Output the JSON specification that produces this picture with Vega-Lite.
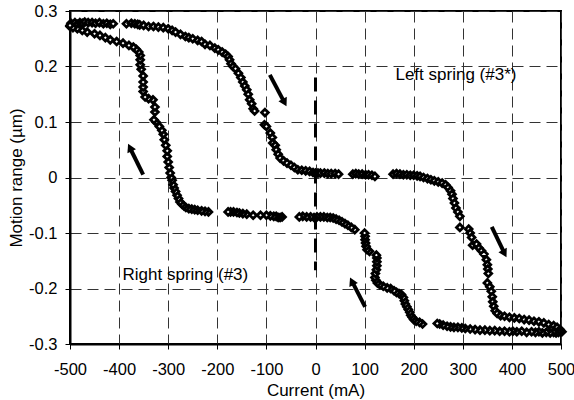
{
  "$schema": "https://vega.github.io/schema/vega-lite/v6.json",
  "width": 491,
  "height": 333,
  "autosize": "none",
  "padding": {"left": 70, "top": 11, "right": 13, "bottom": 56},
  "background": "white",
  "config": {
    "font": "Liberation Sans",
    "view": {"stroke": "#000", "strokeWidth": 2},
    "axis": {
      "labelFont": "Liberation Sans", "titleFont": "Liberation Sans",
      "labelFontSize": 16.5, "titleFontSize": 17, "labelColor": "#000", "titleColor": "#000",
      "titleFontWeight": "normal", "domainColor": "#000", "domainWidth": 2,
      "tickColor": "#000", "tickSize": 5, "tickWidth": 1,
      "labelFlush": false, "labelOverlap": false, "labelBound": false,
      "grid": true, "gridColor": "#333", "gridDash": [11, 6], "gridWidth": 1
    }
  },
  "datasets": {
    "pts": [
      {"x":-500,"y":0.272},{"x":-498,"y":0.278},{"x":-495,"y":0.275},{"x":-490,"y":0.279},{"x":-485,"y":0.276},{"x":-480,"y":0.279},{"x":-475,"y":0.278},{"x":-470,"y":0.28},{"x":-463,"y":0.279},{"x":-455,"y":0.279},{"x":-448,"y":0.278},{"x":-440,"y":0.279},{"x":-432,"y":0.277},{"x":-425,"y":0.278},{"x":-418,"y":0.276},{"x":-412,"y":0.277},
      {"x":-385,"y":0.277},{"x":-375,"y":0.278},{"x":-368,"y":0.277},{"x":-362,"y":0.276},{"x":-358,"y":0.275},{"x":-350,"y":0.274},{"x":-340,"y":0.272},{"x":-330,"y":0.272},{"x":-320,"y":0.271},{"x":-310,"y":0.27},{"x":-300,"y":0.268},{"x":-292,"y":0.265},{"x":-285,"y":0.262},{"x":-275,"y":0.258},{"x":-265,"y":0.254},{"x":-258,"y":0.252},{"x":-250,"y":0.25},{"x":-240,"y":0.247},{"x":-232,"y":0.245},{"x":-225,"y":0.24},{"x":-215,"y":0.238},{"x":-205,"y":0.233},{"x":-198,"y":0.23},{"x":-190,"y":0.226},{"x":-183,"y":0.222},{"x":-178,"y":0.218},{"x":-175,"y":0.212},{"x":-172,"y":0.205},{"x":-168,"y":0.2},{"x":-163,"y":0.196},{"x":-157,"y":0.188},{"x":-152,"y":0.18},{"x":-148,"y":0.172},{"x":-144,"y":0.165},{"x":-140,"y":0.158},{"x":-137,"y":0.15},{"x":-134,"y":0.14},{"x":-130,"y":0.133},{"x":-127,"y":0.124},{"x":-124,"y":0.12},{"x":-103,"y":0.117},{"x":-104,"y":0.095},{"x":-100,"y":0.092},{"x":-92,"y":0.08},{"x":-88,"y":0.072},{"x":-87,"y":0.062},{"x":-82,"y":0.058},{"x":-80,"y":0.05},{"x":-76,"y":0.042},{"x":-72,"y":0.035},{"x":-65,"y":0.03},{"x":-58,"y":0.026},{"x":-50,"y":0.022},{"x":-43,"y":0.018},{"x":-36,"y":0.014},{"x":-28,"y":0.013},{"x":-20,"y":0.012},{"x":-12,"y":0.011},{"x":-5,"y":0.009},{"x":0,"y":0.008},{"x":5,"y":0.008},{"x":10,"y":0.008},{"x":18,"y":0.008},{"x":25,"y":0.007},{"x":32,"y":0.007},{"x":40,"y":0.007},{"x":47,"y":0.006},
      {"x":76,"y":0.006},{"x":82,"y":0.007},{"x":88,"y":0.006},{"x":95,"y":0.006},{"x":102,"y":0.005},{"x":108,"y":0.005},{"x":115,"y":0.004},{"x":121,"y":0.002},
      {"x":158,"y":0.006},{"x":165,"y":0.007},{"x":172,"y":0.006},{"x":179,"y":0.005},{"x":186,"y":0.005},{"x":193,"y":0.004},{"x":200,"y":0.004},{"x":207,"y":0.003},{"x":213,"y":0.002},{"x":220,"y":0.0},{"x":228,"y":-0.002},{"x":235,"y":-0.004},{"x":242,"y":-0.006},{"x":250,"y":-0.008},{"x":258,"y":-0.01},{"x":265,"y":-0.013},{"x":270,"y":-0.018},{"x":275,"y":-0.024},{"x":278,"y":-0.03},{"x":280,"y":-0.038},{"x":283,"y":-0.046},{"x":286,"y":-0.055},{"x":290,"y":-0.062},{"x":294,"y":-0.07},{"x":294,"y":-0.09},{"x":312,"y":-0.093},{"x":315,"y":-0.1},{"x":318,"y":-0.108},{"x":320,"y":-0.122},{"x":328,"y":-0.12},{"x":333,"y":-0.127},{"x":338,"y":-0.132},{"x":343,"y":-0.138},{"x":348,"y":-0.148},{"x":350,"y":-0.157},{"x":351,"y":-0.165},{"x":352,"y":-0.173},{"x":350,"y":-0.19},{"x":355,"y":-0.197},{"x":358,"y":-0.205},{"x":360,"y":-0.215},{"x":361,"y":-0.224},{"x":363,"y":-0.232},{"x":366,"y":-0.24},{"x":370,"y":-0.245},{"x":377,"y":-0.249},{"x":385,"y":-0.25},{"x":395,"y":-0.252},{"x":405,"y":-0.253},{"x":415,"y":-0.254},{"x":425,"y":-0.256},{"x":435,"y":-0.257},{"x":445,"y":-0.259},{"x":455,"y":-0.26},{"x":465,"y":-0.262},{"x":475,"y":-0.265},{"x":485,"y":-0.267},{"x":492,"y":-0.27},{"x":498,"y":-0.274},{"x":502,"y":-0.278},
      {"x":500,"y":-0.278},{"x":495,"y":-0.279},{"x":490,"y":-0.28},{"x":485,"y":-0.279},{"x":478,"y":-0.28},{"x":470,"y":-0.279},{"x":462,"y":-0.28},{"x":455,"y":-0.278},{"x":448,"y":-0.279},{"x":440,"y":-0.278},{"x":430,"y":-0.279},{"x":420,"y":-0.277},{"x":410,"y":-0.278},{"x":402,"y":-0.277},{"x":395,"y":-0.278},{"x":385,"y":-0.277},{"x":375,"y":-0.277},{"x":365,"y":-0.276},{"x":355,"y":-0.276},{"x":345,"y":-0.275},{"x":335,"y":-0.275},{"x":325,"y":-0.274},{"x":315,"y":-0.273},{"x":305,"y":-0.272},{"x":298,"y":-0.271},{"x":290,"y":-0.27},{"x":282,"y":-0.27},{"x":275,"y":-0.269},{"x":268,"y":-0.268},{"x":260,"y":-0.266},{"x":253,"y":-0.264},{"x":248,"y":-0.263},
      {"x":218,"y":-0.264},{"x":212,"y":-0.261},{"x":205,"y":-0.259},{"x":200,"y":-0.256},{"x":197,"y":-0.252},{"x":194,"y":-0.248},{"x":192,"y":-0.243},{"x":189,"y":-0.238},{"x":186,"y":-0.233},{"x":183,"y":-0.228},{"x":181,"y":-0.222},{"x":179,"y":-0.216},{"x":175,"y":-0.211},{"x":170,"y":-0.209},{"x":165,"y":-0.207},{"x":160,"y":-0.204},{"x":153,"y":-0.2},{"x":146,"y":-0.199},{"x":138,"y":-0.196},{"x":131,"y":-0.193},{"x":126,"y":-0.19},{"x":123,"y":-0.185},{"x":121,"y":-0.18},{"x":122,"y":-0.173},{"x":124,"y":-0.166},{"x":125,"y":-0.159},{"x":125,"y":-0.152},{"x":125,"y":-0.145},{"x":124,"y":-0.14},{"x":110,"y":-0.133},{"x":105,"y":-0.13},{"x":103,"y":-0.124},{"x":102,"y":-0.118},{"x":101,"y":-0.112},{"x":101,"y":-0.106},{"x":100,"y":-0.1},{"x":80,"y":-0.094},{"x":73,"y":-0.09},{"x":66,"y":-0.086},{"x":60,"y":-0.083},{"x":54,"y":-0.08},{"x":48,"y":-0.077},{"x":42,"y":-0.075},{"x":36,"y":-0.073},{"x":30,"y":-0.072},{"x":24,"y":-0.072},{"x":17,"y":-0.071},{"x":10,"y":-0.071},{"x":3,"y":-0.071},{"x":-3,"y":-0.072},{"x":-10,"y":-0.071},{"x":-18,"y":-0.071},{"x":-26,"y":-0.07},{"x":-33,"y":-0.071},
      {"x":-68,"y":-0.071},{"x":-72,"y":-0.072},{"x":-76,"y":-0.072},{"x":-80,"y":-0.07},{"x":-85,"y":-0.07},{"x":-92,"y":-0.069},{"x":-100,"y":-0.068},{"x":-112,"y":-0.068},{"x":-127,"y":-0.068},{"x":-140,"y":-0.066},{"x":-148,"y":-0.065},{"x":-155,"y":-0.064},{"x":-160,"y":-0.063},{"x":-167,"y":-0.062},{"x":-173,"y":-0.062},{"x":-178,"y":-0.062},
      {"x":-218,"y":-0.062},{"x":-225,"y":-0.061},{"x":-232,"y":-0.06},{"x":-240,"y":-0.059},{"x":-246,"y":-0.058},{"x":-252,"y":-0.057},{"x":-258,"y":-0.056},{"x":-264,"y":-0.054},{"x":-268,"y":-0.051},{"x":-272,"y":-0.048},{"x":-276,"y":-0.044},{"x":-279,"y":-0.038},{"x":-282,"y":-0.032},{"x":-285,"y":-0.025},{"x":-288,"y":-0.019},{"x":-290,"y":-0.013},{"x":-292,"y":-0.005},{"x":-294,"y":0.0},{"x":-296,"y":0.008},{"x":-298,"y":0.018},{"x":-300,"y":0.028},{"x":-302,"y":0.038},{"x":-302,"y":0.048},{"x":-305,"y":0.058},{"x":-308,"y":0.068},{"x":-310,"y":0.078},{"x":-313,"y":0.085},{"x":-318,"y":0.092},{"x":-325,"y":0.1},{"x":-329,"y":0.104},{"x":-327,"y":0.118},{"x":-327,"y":0.127},{"x":-331,"y":0.14},{"x":-340,"y":0.142},{"x":-347,"y":0.145},{"x":-351,"y":0.155},{"x":-351,"y":0.163},{"x":-351,"y":0.172},{"x":-351,"y":0.183},{"x":-355,"y":0.195},{"x":-357,"y":0.203},{"x":-357,"y":0.212},{"x":-357,"y":0.22},{"x":-360,"y":0.226},{"x":-365,"y":0.231},{"x":-371,"y":0.235},{"x":-380,"y":0.238},{"x":-392,"y":0.242},{"x":-405,"y":0.245},{"x":-418,"y":0.248},{"x":-428,"y":0.252},{"x":-439,"y":0.256},{"x":-450,"y":0.259},{"x":-465,"y":0.262},{"x":-475,"y":0.265},{"x":-485,"y":0.268},{"x":-494,"y":0.27},{"x":-500,"y":0.274}
    ],
    "arrows": [
      {"x":-93,"y":0.185,"x2":-65,"y2":0.138,"hx":-63,"hy":0.135,"ang":152},
      {"x":-351,"y":0.005,"x2":-376,"y2":0.05,"hx":-378,"hy":0.054,"ang":334},
      {"x":101,"y":-0.233,"x2":76,"y2":-0.19,"hx":74,"hy":-0.187,"ang":334},
      {"x":359,"y":-0.089,"x2":383,"y2":-0.133,"hx":385,"hy":-0.137,"ang":152}
    ],
    "labels": [
      {"x":286,"y":0.185,"t":"Left spring (#3*)"},
      {"x":-265,"y":-0.176,"t":"Right spring (#3)"}
    ],
    "zero": [{"x":0,"y":0.18,"y2":-0.167}]
  },
  "layer": [
    {
      "data": {"name": "pts"},
      "mark": {"type": "point", "shape": "diamond", "size": 45, "filled": false, "fill": "white", "fillOpacity": 1, "stroke": "#000", "strokeWidth": 2.8, "opacity": 1},
      "encoding": {
        "x": {"field": "x", "type": "quantitative", "scale": {"domain": [-500, 500], "nice": false},
          "axis": {"values": [-500,-400,-300,-200,-100,0,100,200,300,400,500], "labelExpr": "toString(datum.value)", "title": "Current (mA)", "labelPadding": 12, "titlePadding": 5}},
        "y": {"field": "y", "type": "quantitative", "scale": {"domain": [-0.3, 0.3], "nice": false},
          "axis": {"values": [-0.3,-0.2,-0.1,0,0.1,0.2,0.3], "labelExpr": "datum.value == 0 ? '0' : toString(round(datum.value*10)/10)", "title": "Motion range (µm)", "labelPadding": 8, "titlePadding": 3}}
      }
    },
    {
      "data": {"name": "zero"},
      "mark": {"type": "rule", "strokeWidth": 3, "strokeDash": [14, 9], "color": "#000"},
      "encoding": {
        "x": {"field": "x", "type": "quantitative"},
        "y": {"field": "y", "type": "quantitative"},
        "y2": {"field": "y2"}
      }
    },
    {
      "data": {"name": "arrows"},
      "mark": {"type": "rule", "strokeWidth": 4, "color": "#000"},
      "encoding": {
        "x": {"field": "x", "type": "quantitative"},
        "y": {"field": "y", "type": "quantitative"},
        "x2": {"field": "x2"},
        "y2": {"field": "y2"}
      }
    },
    {
      "data": {"name": "arrows"},
      "mark": {"type": "point", "shape": "triangle-up", "filled": true, "color": "#000", "size": 90, "opacity": 1},
      "encoding": {
        "x": {"field": "hx", "type": "quantitative"},
        "y": {"field": "hy", "type": "quantitative"},
        "angle": {"field": "ang", "type": "quantitative", "scale": null}
      }
    },
    {
      "data": {"name": "labels"},
      "mark": {"type": "text", "fontSize": 17, "font": "Liberation Sans", "color": "#000", "align": "center", "baseline": "middle"},
      "encoding": {
        "x": {"field": "x", "type": "quantitative"},
        "y": {"field": "y", "type": "quantitative"},
        "text": {"field": "t"}
      }
    }
  ]
}
